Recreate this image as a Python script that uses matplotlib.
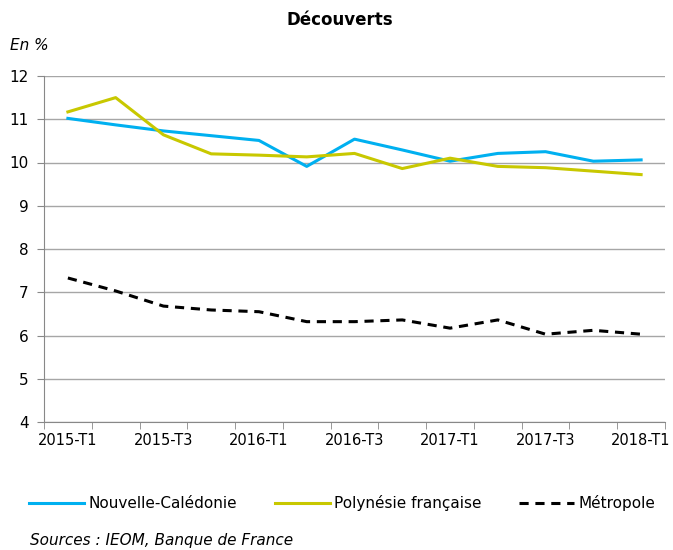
import matplotlib
matplotlib.use('Agg')
import matplotlib.pyplot as plt
import numpy as np

quarters = ['2015-T1', '2015-T2', '2015-T3', '2015-T4',
            '2016-T1', '2016-T2', '2016-T3', '2016-T4',
            '2017-T1', '2017-T2', '2017-T3', '2017-T4', '2018-T1']
nouvelle_caledonie = [11.02, 10.87, 10.73, 10.62, 10.51, 9.91, 10.54,
                      10.29, 10.03, 10.21, 10.25, 10.03, 10.06]
polynesie = [11.17, 11.50, 10.64, 10.20, 10.17, 10.13, 10.21,
             9.86, 10.10, 9.91, 9.88, 9.80, 9.72]
metropole = [7.33, 7.03, 6.68, 6.59, 6.55, 6.32, 6.32,
             6.36, 6.17, 6.36, 6.03, 6.12, 6.03]
y_ticks = [4, 5, 6, 7, 8, 9, 10, 11, 12]

plt.rcParams['font.family'] = ['DejaVu Sans']

fig = plt.figure(figsize=(6.73, 5.5), dpi=100)
ax = fig.add_axes([44/673, 1-422/550, (665-44)/673, (422-76)/550])

x = np.arange(len(quarters))
ax.plot(x, nouvelle_caledonie, color='#00B0F0', lw=2.2, label='Nouvelle-Calédonie')
ax.plot(x, polynesie, color='#C8C800', lw=2.2, label='Polynésie française')
ax.plot(x, metropole, color='black', lw=2.2, ls=(0, (3, 2.2)), label='Métropole')

ax.set_xlim(-0.5, len(quarters) - 0.5)
ax.set_ylim(4, 12)
ax.set_yticks(y_ticks)
ax.set_yticklabels([str(v) for v in y_ticks], fontsize=11)
ax.set_xticks(x[::2])
ax.set_xticklabels(quarters[::2], fontsize=10.5)
ax.set_xticks(np.arange(-0.5, len(quarters), 1), minor=True)
ax.tick_params(axis='x', which='major', length=0, pad=8)
ax.tick_params(axis='x', which='minor', length=5, color='#888888', direction='out')
ax.tick_params(axis='y', length=5, color='#888888', pad=6)
ax.grid(axis='y', color='#A6A6A6', lw=1)
ax.set_axisbelow(True)
for s in ['top', 'right']:
    ax.spines[s].set_visible(False)
for s in ['left', 'bottom']:
    ax.spines[s].set_color('#888888')

fig.text(0.505, 1-20/550, 'Découverts', ha='center', va='center', fontsize=12, fontweight='bold')
fig.text(10/673, 1-45/550, 'En %', ha='left', va='center', fontsize=11, style='italic')
fig.text(30/673, 1-540/550, 'Sources : IEOM, Banque de France', ha='left', va='center',
         fontsize=11, style='italic')

fig.legend(loc='center', bbox_to_anchor=(0.509, 1-503/550), ncol=3, frameon=False,
           fontsize=11, handlelength=3.6, handletextpad=0.3, columnspacing=2.45)

fig.savefig('out.png', dpi=100)
